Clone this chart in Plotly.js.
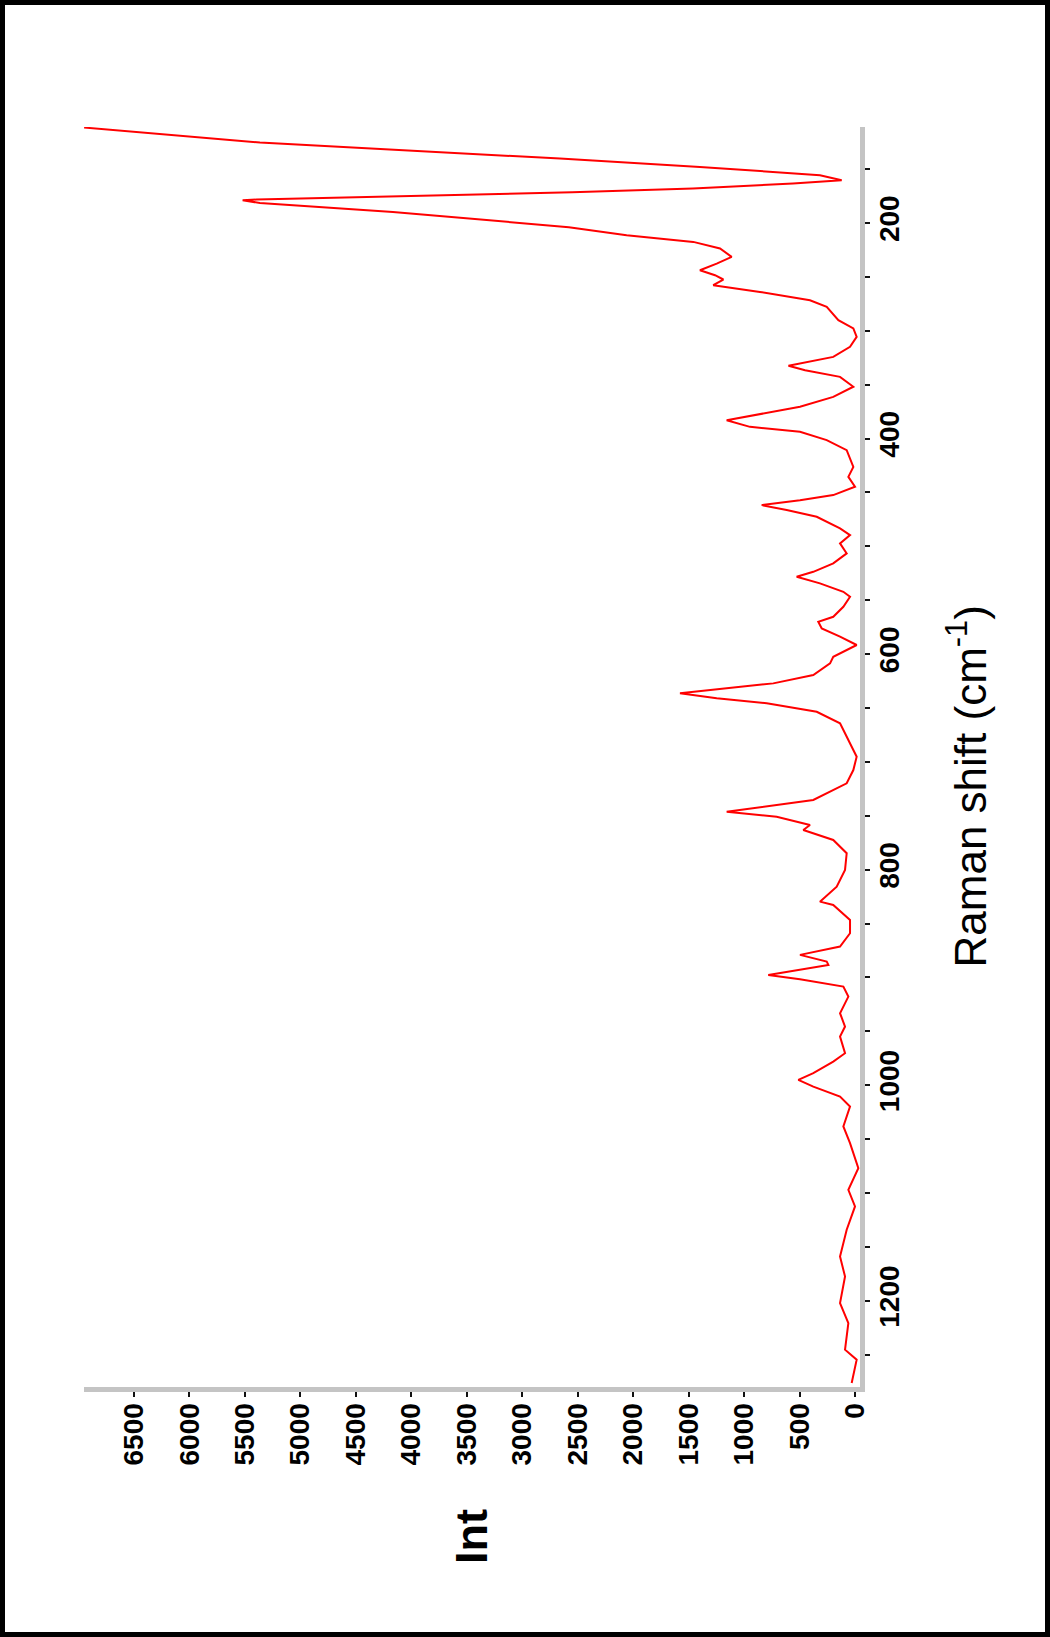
<!DOCTYPE html>
<html>
<head>
<meta charset="utf-8">
<script src="https://cdn.plot.ly/plotly-3.0.1.min.js"></script>
<style>
  html, body { margin: 0; padding: 0; background: #ffffff; }
  #wrap { position: relative; width: 1050px; height: 1637px; }
  #chart { position: absolute; left: 0; top: 0; width: 1050px; height: 1637px; }
  #frame { position: absolute; left: 0; top: 0; width: 1050px; height: 1637px;
           box-sizing: border-box; border: 5px solid #000; pointer-events: none; }
</style>
</head>
<body>
<div id="wrap">
  <div id="chart"></div>
  <div id="frame"></div>
</div>
<script>
// Raman shift (cm-1) values
const ramanShift = [
  111.5, 125.4, 140.3, 148.0, 155.8, 160.4, 163.5, 168.0, 171.5, 175.2, 178.3, 179.0, 181.5, 189.8,
  204.0, 211.4, 217.6, 223.7, 231.5, 237.7, 243.9, 248.5, 252.5, 257.8, 264.0, 271.7, 277.9, 290.2,
  297.9, 305.7, 315.0, 324.3, 332.5, 336.6, 342.8, 352.0, 361.4, 370.6, 383.0, 389.2, 393.8, 401.5,
  410.8, 426.3, 435.6, 444.8, 452.5, 457.2, 461.8, 466.4, 472.6, 483.4, 489.6, 497.3, 506.6, 515.9,
  523.7, 528.3, 534.4, 542.2, 546.8, 556.1, 565.4, 570.0, 576.2, 583.9, 591.6, 602.5, 608.6, 619.5,
  627.2, 636.4, 641.0, 645.7, 653.5, 664.2, 676.7, 695.2, 707.6, 719.9, 735.4, 746.2, 750.9, 758.6,
  763.2, 772.5, 784.8, 800.3, 815.8, 829.7, 832.8, 846.7, 859.0, 871.4, 879.1, 885.3, 888.4, 897.7,
  901.7, 908.5, 917.8, 933.2, 945.6, 954.9, 970.3, 978.1, 988.8, 995.0, 1001.3, 1010.5, 1019.8, 1038.3,
  1053.8, 1077.0, 1097.0, 1112.5, 1134.1, 1158.9, 1177.5, 1202.1, 1220.7, 1245.4, 1254.7, 1276.3
];
// Intensity values
const intensity = [
  6950, 5365, 2660, 1398, 316, 120, 559, 1461, 2550, 4256, 5395, 5521, 5365, 4166,
  2580, 2059, 1458, 1217, 1112, 1247, 1398, 1262, 1187, 1278, 857, 406, 255, 150,
  15, -15, 45, 196, 600, 450, 135, 15, 196, 496, 1157, 947, 496, 255,
  75, 15, 60, 0, 196, 496, 841, 616, 345, 135, 45, 135, 75, 196,
  376, 526, 316, 105, 45, 105, 196, 331, 300, 135, -15, 196, 225, 376,
  737, 1578, 1247, 796, 345, 135, 75, -15, 15, 75, 376, 1157, 706, 406,
  466, 196, 75, 90, 165, 316, 196, 45, 45, 135, 496, 255, 240, 782,
  496, 105, 60, 135, 90, 135, 90, 196, 376, 511, 376, 135, 45, 105,
  45, -30, 60, 0, 75, 135, 90, 135, 60, 90, -15, 30
];

const shiftTitle = "Raman shift (cm<sup>-1</sup>)";
const intTitle = "Int";

const tickFont = { family: "Liberation Sans, Arial, sans-serif", size: 28, weight: "bold", color: "#000000" };

const trace = {
  type: "scatter",
  mode: "lines",
  x: intensity,
  y: ramanShift,
  line: { color: "#ff0000", width: 2 },
  hoverinfo: "skip"
};

const axisCommon = {
  autorange: false,
  showgrid: false,
  zeroline: false,
  showline: true,
  linecolor: "#c4c4c4",
  linewidth: 5,
  ticks: "outside",
  ticklen: 5,
  tickwidth: 2,
  tickcolor: "#111111",
  tickmode: "linear",
  tick0: 0,
  tickangle: -90,
  ticklabelstandoff: -5,
  tickfont: tickFont
};

const layout = {
  width: 1050,
  height: 1637,
  margin: { l: 84, r: 190, t: 127, b: 250, pad: 0 },
  paper_bgcolor: "#ffffff",
  plot_bgcolor: "#ffffff",
  showlegend: false,
  xaxis: Object.assign({}, axisCommon, {
    range: [6951, -45],
    dtick: 500
  }),
  yaxis: Object.assign({}, axisCommon, {
    side: "right",
    range: [1280, 111],
    dtick: 200,
    minor: { dtick: 50, tick0: 0, ticks: "outside", ticklen: 5, tickwidth: 2, tickcolor: "#111111", showgrid: false }
  }),
  annotations: [
    {
      text: shiftTitle, xref: "paper", yref: "paper", x: 1.1385, y: 0.477,
      xanchor: "center", yanchor: "middle", textangle: -90, showarrow: false,
      font: { family: "Liberation Sans, Arial, sans-serif", size: 44, color: "#000000" }
    },
    {
      text: intTitle, xref: "paper", yref: "paper", x: 0.5, y: -0.119,
      xanchor: "center", yanchor: "middle", textangle: -90, showarrow: false,
      font: { family: "Liberation Sans, Arial, sans-serif", size: 45, weight: "bold", color: "#000000" }
    }
  ]
};

Plotly.newPlot("chart", [trace], layout, { displayModeBar: false, staticPlot: true });
</script>
</body>
</html>
